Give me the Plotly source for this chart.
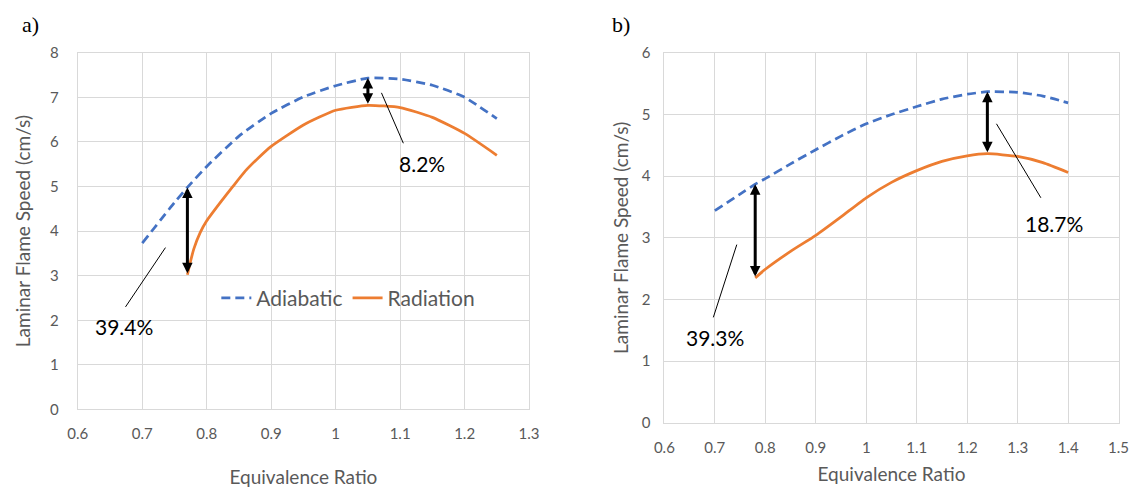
import plotly.graph_objects as go

# Panel a) laminar flame speed vs equivalence ratio
phi_a_adiabatic = [0.70, 0.75, 0.77, 0.80, 0.85, 0.90, 0.95, 1.00, 1.05, 1.10, 1.15, 1.20, 1.25]
sl_a_adiabatic = [3.73, 4.64, 4.98, 5.45, 6.13, 6.64, 7.01, 7.26, 7.43, 7.41, 7.27, 7.00, 6.52]
phi_a_radiation = [0.77, 0.775, 0.78, 0.79, 0.80, 0.82, 0.84, 0.86, 0.88, 0.90, 0.95, 1.00, 1.05, 1.10, 1.15, 1.20, 1.25]
sl_a_radiation = [3.02, 3.33, 3.60, 3.97, 4.23, 4.62, 4.99, 5.35, 5.64, 5.90, 6.38, 6.71, 6.82, 6.77, 6.55, 6.19, 5.70]

# Panel b)
phi_b_adiabatic = [0.70, 0.75, 0.78, 0.80, 0.85, 0.90, 0.95, 1.00, 1.05, 1.10, 1.15, 1.20, 1.24, 1.30, 1.35, 1.40]
sl_b_adiabatic = [3.44, 3.71, 3.87, 3.96, 4.20, 4.43, 4.65, 4.85, 5.00, 5.13, 5.25, 5.33, 5.37, 5.36, 5.30, 5.19]
phi_b_radiation = [0.78, 0.80, 0.85, 0.90, 0.95, 1.00, 1.05, 1.10, 1.15, 1.20, 1.24, 1.30, 1.35, 1.40]
sl_b_radiation = [2.35, 2.49, 2.78, 3.04, 3.34, 3.65, 3.90, 4.09, 4.24, 4.33, 4.365, 4.32, 4.22, 4.06]

# Equivalence ratios where the reduction arrows are drawn, with their labels
arrows_a = [0.77, 1.05]
arrows_b = [0.78, 1.24]
# leader line (x0, y0, x1, y1), label position (x, y) and label text
callouts_a = [((0.674, 2.30, 0.736, 3.63), (0.672, 1.85), "39.4%"),
              ((1.071, 7.10, 1.105, 5.97), (1.134, 5.51), "8.2%")]
callouts_b = [((0.697, 1.71, 0.7435, 2.89), (0.700, 1.38), "39.3%"),
              ((1.258, 4.85, 1.346, 3.65), (1.372, 3.23), "18.7%")]

x_ticks_a = [0.6, 0.7, 0.8, 0.9, 1.0, 1.1, 1.2, 1.3]
x_tick_text_a = ["0.6", "0.7", "0.8", "0.9", "1", "1.1", "1.2", "1.3"]
x_ticks_b = [0.6, 0.7, 0.8, 0.9, 1.0, 1.1, 1.2, 1.3, 1.4, 1.5]
x_tick_text_b = ["0.6", "0.7", "0.8", "0.9", "1", "1.1", "1.2", "1.3", "1.4", "1.5"]

W, H = 1145, 497
BLUE = "#4472C4"
ORANGE = "#ED7D31"
GREY_TXT = "#595959"
GRID = "#d9d9d9"
FONT = "Lato"

fig = go.Figure()

fig.add_trace(go.Scatter(x=phi_a_adiabatic, y=sl_a_adiabatic, name="Adiabatic", mode="lines",
                         line=dict(color=BLUE, width=2.75, dash="9px,5px", shape="spline", smoothing=0.5),
                         xaxis="x", yaxis="y"))
fig.add_trace(go.Scatter(x=phi_a_radiation, y=sl_a_radiation, name="Radiation", mode="lines",
                         line=dict(color=ORANGE, width=2.75, shape="spline", smoothing=0.5),
                         xaxis="x", yaxis="y"))
fig.add_trace(go.Scatter(x=phi_b_adiabatic, y=sl_b_adiabatic, name="Adiabatic", mode="lines",
                         line=dict(color=BLUE, width=2.75, dash="9px,5px", shape="spline", smoothing=0.5),
                         xaxis="x2", yaxis="y2", showlegend=False))
fig.add_trace(go.Scatter(x=phi_b_radiation, y=sl_b_radiation, name="Radiation", mode="lines",
                         line=dict(color=ORANGE, width=2.75, shape="spline", smoothing=0.5),
                         xaxis="x2", yaxis="y2", showlegend=False))

annotations = []
shapes = []


def add_arrows(phis, phi_adi, sl_adi, phi_rad, sl_rad, xr, yr):
    for p in phis:
        top = sl_adi[phi_adi.index(p)]
        bottom = sl_rad[phi_rad.index(p)]
        annotations.append(dict(x=p, y=top, ax=p, ay=bottom, xref=xr, yref=yr, axref=xr, ayref=yr,
                                text="", showarrow=True, arrowside="end+start",
                                arrowhead=2, startarrowhead=2, arrowsize=0.7, startarrowsize=0.7,
                                arrowwidth=3, arrowcolor="black", standoff=0, startstandoff=0))


def add_callouts(callouts, xr, yr):
    for (x0, y0, x1, y1), (tx, ty), label in callouts:
        shapes.append(dict(type="line", xref=xr, yref=yr, x0=x0, y0=y0, x1=x1, y1=y1,
                           line=dict(color="black", width=1)))
        annotations.append(dict(x=tx, y=ty, xref=xr, yref=yr, text=label, showarrow=False,
                                xanchor="center", yanchor="middle",
                                font=dict(family=FONT, size=21, color="black")))


add_arrows(arrows_a, phi_a_adiabatic, sl_a_adiabatic, phi_a_radiation, sl_a_radiation, "x", "y")
add_arrows(arrows_b, phi_b_adiabatic, sl_b_adiabatic, phi_b_radiation, sl_b_radiation, "x2", "y2")
add_callouts(callouts_a, "x", "y")
add_callouts(callouts_b, "x2", "y2")

# panel letters
annotations.append(dict(x=21 / W, y=1 - 15 / H, xref="paper", yref="paper", text="a)", showarrow=False,
                        xanchor="center", yanchor="middle",
                        font=dict(family="Liberation Serif", size=22, color="black")))
annotations.append(dict(x=622 / W, y=1 - 15 / H, xref="paper", yref="paper", text="b)", showarrow=False,
                        xanchor="center", yanchor="middle",
                        font=dict(family="Liberation Serif", size=22, color="black")))

axis_common = dict(showgrid=True, gridcolor=GRID, gridwidth=1, showline=True, linecolor=GRID,
                   linewidth=1, mirror=True, zeroline=False, ticks="",
                   tickfont=dict(family=FONT, size=15, color=GREY_TXT))
title_font = dict(family=FONT, size=19, color=GREY_TXT)

fig.update_layout(
    width=W, height=H,
    margin=dict(l=0, r=0, t=0, b=0),
    paper_bgcolor="white", plot_bgcolor="white",
    font=dict(family=FONT, color=GREY_TXT),
    xaxis=dict(domain=[69 / W, 528.3 / W], range=[0.6, 1.3], tickvals=x_ticks_a, ticktext=x_tick_text_a,
               anchor="y", ticklabelstandoff=11,
               title=dict(text="Equivalence Ratio", font=title_font, standoff=29), **axis_common),
    yaxis=dict(domain=[1 - 414.5 / H, 1 - 44.3 / H], range=[0, 8], dtick=1, anchor="x",
               ticklabelstandoff=15,
               title=dict(text="Laminar Flame Speed (cm/s)", font=title_font, standoff=14), **axis_common),
    xaxis2=dict(domain=[666 / W, 1128.3 / W], range=[0.6, 1.5], tickvals=x_ticks_b, ticktext=x_tick_text_b,
                anchor="y2", ticklabelstandoff=11,
                title=dict(text="Equivalence Ratio", font=title_font, standoff=12), **axis_common),
    yaxis2=dict(domain=[1 - 428.3 / H, 1 - 44.5 / H], range=[0, 6], dtick=1, anchor="x2",
                ticklabelstandoff=10,
                title=dict(text="Laminar Flame Speed (cm/s)", font=title_font, standoff=8), **axis_common),
    legend=dict(orientation="h", x=210 / W, xanchor="left", y=1 - 299 / H, yanchor="middle",
                font=dict(family=FONT, size=21, color=GREY_TXT), bgcolor="rgba(0,0,0,0)",
                itemwidth=30, tracegroupgap=0),
    annotations=annotations,
    shapes=shapes,
    showlegend=True,
)

# keep the chart flush with the page corner
fig.write_html("out.html", post_script="document.body.style.margin='0';")
